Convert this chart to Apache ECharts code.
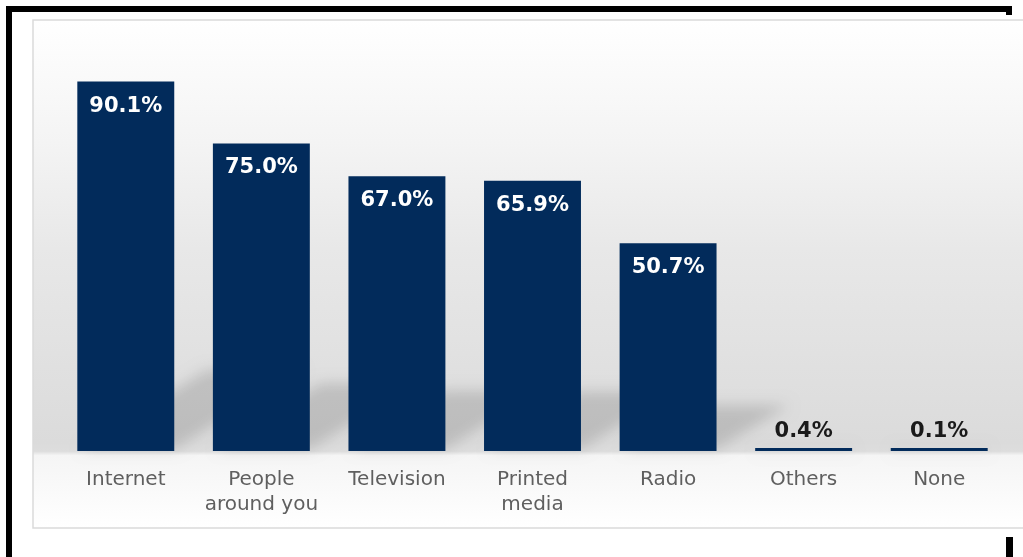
<!DOCTYPE html>
<html>
<head>
<meta charset="utf-8">
<script src="https://cdn.jsdelivr.net/npm/echarts@6/dist/echarts.min.js"></script>
<style>
  html, body { margin: 0; padding: 0; background: #fff; }
  #myChart { width: 1023px; height: 557px; }
</style>
</head>
<body>
<div id="myChart"></div>
<script>
// categories and values
var categories = ['Internet', 'People\naround you', 'Television', 'Printed\nmedia', 'Radio', 'Others', 'None'];
var shares = [90.1, 75.0, 67.0, 65.9, 50.7, 0.4, 0.1];

var barColor = '#022b5b';
var barPct = 0.715;
var OFF = 3000; // shadow trick: shape drawn off canvas, only its blurred shadow lands on it

var chart = echarts.init(document.getElementById('myChart'));

// bar items: small ones get their label above the bar, in dark text
var barItems = shares.map(function (v) {
  if (v < 5) {
    return {
      value: v,
      label: { position: 'top', distance: 6, color: '#1a1a1a' }
    };
  }
  return v;
});

chart.setOption({
  animation: false,
  graphic: [
    // light panel behind the chart
    {
      type: 'rect', z: -10,
      shape: { x: 33, y: 20, width: 1000, height: 508 },
      style: {
        fill: new echarts.graphic.LinearGradient(0, 0, 0, 1, [
          { offset: 0, color: '#ffffff' },
          { offset: 0.24, color: '#f4f4f4' },
          { offset: 0.45, color: '#e8e8e8' },
          { offset: 0.83, color: '#dbdbdb' },
          { offset: 0.848, color: '#dddddd' },
          { offset: 0.856, color: '#f5f5f5' },
          { offset: 1, color: '#ffffff' }
        ]),
        stroke: '#dadada',
        lineWidth: 1.5
      }
    },
    // black frame pieces
    { type: 'rect', z: 100, shape: { x: 6, y: 6, width: 1006, height: 6 }, style: { fill: '#000' } },
    { type: 'rect', z: 100, shape: { x: 6, y: 6, width: 6, height: 551 }, style: { fill: '#000' } },
    { type: 'rect', z: 100, shape: { x: 1006, y: 6, width: 6, height: 9 }, style: { fill: '#000' } },
    { type: 'rect', z: 100, shape: { x: 1006, y: 537, width: 7, height: 20 }, style: { fill: '#000' } }
  ],
  grid: {
    left: 58,
    right: 16,
    top: 41,
    bottom: 106
  },
  xAxis: {
    type: 'category',
    data: categories,
    axisLine: { show: false },
    axisTick: { show: false },
    splitLine: { show: false },
    axisLabel: {
      interval: 0,
      margin: 16,
      color: '#5f5f5f',
      fontFamily: 'DejaVu Sans',
      fontSize: 20,
      lineHeight: 25
    }
  },
  yAxis: {
    type: 'value',
    min: 0,
    max: 100,
    show: false
  },
  series: [
    {
      // soft cast shadow of every bar, slanted up to the right
      type: 'custom',
      z: 1,
      silent: true,
      data: shares.map(function (v, i) { return [i, v]; }),
      encode: { x: 0, y: 1 },
      renderItem: function (params, api) {
        var idx = api.value(0);
        var base = api.coord([idx, 0]);
        var top = api.coord([idx, api.value(1)]);
        var w = api.size([1, 0])[0] * barPct;
        var h = base[1] - top[1];
        var x0 = base[0] - w / 2 - OFF;
        var x1 = x0 + w;
        var dx = 0.35 * h;
        var dy = 0.22 * h;
        return {
          type: 'polygon',
          shape: {
            points: [
              [x0 + 4, base[1] - 2],
              [x1, base[1] - 2],
              [x1 + dx, base[1] - dy],
              [x0 + dx, base[1] - dy]
            ]
          },
          style: {
            fill: '#000',
            shadowBlur: 14,
            shadowOffsetX: OFF,
            shadowColor: 'rgba(0,0,0,0.14)'
          }
        };
      }
    },
    {
      name: 'share',
      type: 'bar',
      z: 3,
      data: barItems,
      barWidth: (barPct * 100) + '%',
      barMinHeight: 3,
      itemStyle: { color: barColor },
      label: {
        show: true,
        position: 'insideTop',
        distance: 14,
        color: '#ffffff',
        fontFamily: 'DejaVu Sans',
        fontWeight: 'bold',
        fontSize: 21,
        formatter: function (p) { return p.value.toFixed(1) + '%'; }
      }
    }
  ]
});
</script>
</body>
</html>
